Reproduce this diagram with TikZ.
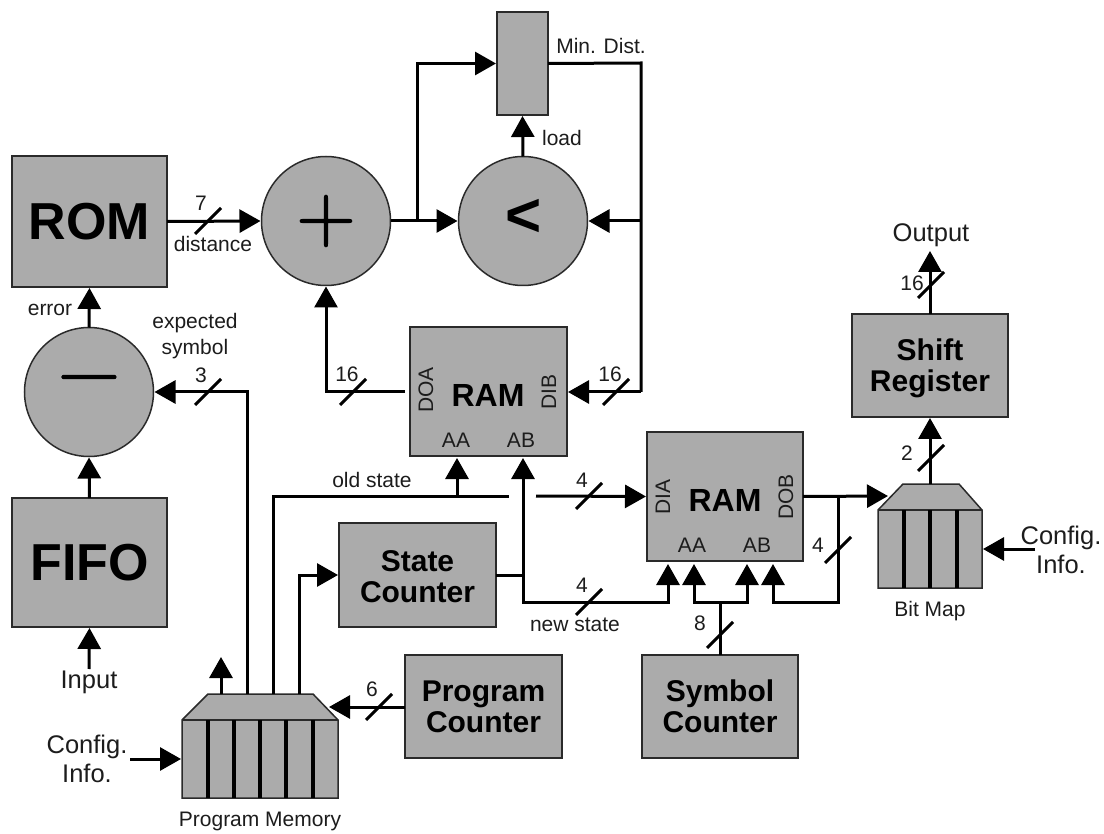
\documentclass[tikz,border=0pt]{standalone}
\usepackage{fontspec}
\setmainfont{Liberation Sans}
\newfontfamily\lmsym[FakeBold=1.5]{Latin Modern Roman}
\usetikzlibrary{arrows.meta}
\definecolor{blockgray}{HTML}{ABABAB}
\definecolor{edgegray}{HTML}{2A2A2A}
\definecolor{inkgray}{HTML}{1C1C1C}
\newcommand{\fs}[1]{\fontsize{#1}{#1}\selectfont}
\newcommand{\busslash}[2]{\draw[slashmark] (#1-13,#2+13) -- (#1+13,#2-13);}
\tikzset{
  x=1pt,y=-1pt,
  block/.style={draw=edgegray,fill=blockgray,line width=1.5pt,inner sep=0pt,outer sep=0pt,align=center,text=black},
  orb/.style={block,circle,minimum size=129pt},
  big/.style={font=\fs{52}\bfseries},
  mid/.style={font=\fs{30}\bfseries,text depth=0pt},
  ramtext/.style={font=\fs{32}\bfseries,inner sep=0pt},
  lab/.style={font=\fs{21},text=inkgray,inner sep=0pt,align=center},
  biglab/.style={font=\fs{25.5},text=inkgray,inner sep=0pt,align=center},
  wire/.style={line width=3pt,draw=black},
  arr/.style={wire,-{Triangle[length=21pt,width=23pt]},shorten >=1pt},
  slashmark/.style={line width=3pt,draw=black},
  divider/.style={line width=3.5pt,draw=black},
  memory/.style={draw=edgegray,fill=blockgray,line width=1.5pt,line join=miter},
}
\begin{document}
\begin{tikzpicture}
\useasboundingbox (0,0) rectangle (1104,834);
% blocks
\node[block,big,minimum width=155pt,minimum height=131pt] (rom) at (89.5,221.5) {ROM};
\node[block,big,minimum width=155pt,minimum height=129pt] (fifo) at (89.5,562.5) {FIFO};
\node[orb] (minus) at (89,392) {};
\node[font=\lmsym\fs{86},inner sep=0pt] (minussign) at (89,387) {−};
\node[orb] (plus) at (326,221) {};
\node[font=\lmsym\fs{82},inner sep=0pt] (plussign) at (326,221) {+};
\node[orb] (less) at (523,221) {};
\node[font=\fs{62}\bfseries,inner sep=0pt] (lesssign) at (524,218) {<};
\node[block,minimum width=51pt,minimum height=103pt] (mindist) at (522.5,63.5) {};
\node[block,minimum width=157pt,minimum height=129pt] (ramone) at (488.5,391.5) {};
\node[block,minimum width=156pt,minimum height=129pt] (ramtwo) at (725,496.5) {};
\node[block,mid,minimum width=156pt,minimum height=103pt] (shift) at (930,365.5) {Shift\\[1pt]Register};
\node[block,minimum width=157pt,minimum height=104pt] (state) at (417.5,575) {};
\node[mid,align=center,inner sep=0pt] (statetext) at (417.5,577) {State\\[1pt]Counter};
\node[block,mid,minimum width=157pt,minimum height=103pt] (progc) at (483.5,706.5) {Program\\[1pt]Counter};
\node[block,mid,minimum width=156pt,minimum height=103pt] (symc) at (720,706.5) {Symbol\\[1pt]Counter};
% bit map
\draw[memory] (878,510) -- (903,484) -- (959,484) -- (982,510) -- (982,588) -- (878,588) -- cycle;
\draw[memory] (878,510) -- (982,510);
\foreach \x in {904,930,957} \draw[divider] (\x,510) -- (\x,588);
% program memory
\draw[memory] (182,720) -- (208,694) -- (313,694) -- (338,720) -- (338,798) -- (182,798) -- cycle;
\draw[memory] (182,720) -- (338,720);
\foreach \x in {208,234,260,286,313} \draw[divider] (\x,720) -- (\x,798);
% junctions and free ends
\coordinate (bmtop) at (930,484);
\coordinate (bmleft) at (889,496);
\coordinate (bmright) at (982,549);
\coordinate (pmleft) at (182,759);
\coordinate (pmright) at (328,707);
\coordinate (pmA) at (221,694);
\coordinate (pmB) at (247,694);
\coordinate (pmC) at (273,694);
\coordinate (pmD) at (299,694);
\coordinate (pmup) at (221,656);
\coordinate (cfgA) at (130,759);
\coordinate (cfgB) at (1035,549);
\coordinate (inp) at (89,669);
\coordinate (outp) at (930,250);
\coordinate (split) at (417,221);
\coordinate (mdcorner) at (641,63);
\coordinate (tee) at (641,221);
\coordinate (dibcorner) at (641,392);
\coordinate (gapL) at (509,496);
\coordinate (gapR) at (536,496);
\coordinate (oldjoin) at (457,496);
\coordinate (nsjoin) at (523,575);
\coordinate (nscorner) at (523,602);
\coordinate (scjoin) at (720,602);
\coordinate (dobjoin) at (838,496);
\coordinate (dobcorner) at (838,602);
\coordinate (doaout) at (405,392);
\coordinate (progout) at (405,707);
\coordinate (rA) at (457,457);
\coordinate (rB) at (523,457);
\coordinate (tA) at (668,563);
\coordinate (tB) at (694,563);
\coordinate (tC) at (747,563);
\coordinate (tD) at (773,563);
\coordinate (mA) at (668,602);
\coordinate (mD) at (773,602);
\coordinate (mB) at (694,602);
\coordinate (mC) at (747,602);
% connectors
\draw[arr] (rom.east) -- (plus.west);
\draw[arr] (minus.north) -- (rom.south);
\draw[arr] (fifo.north) -- (minus.south);
\draw[arr] (inp) -- (fifo.south);
\draw[arr] (plus.east) -- (less.west);
\draw[arr] (split) |- (mindist.west);
\draw[arr] (less.north) -- (mindist.south);
\draw[wire] (mindist.east) -- (mdcorner) -- (dibcorner);
\draw[arr] (tee) -- (less.east);
\draw[arr] (dibcorner) -- (ramone.east |- dibcorner);
\draw[arr] (doaout) -| (plus.south);
\draw[arr] (pmB) |- (minus.east);
\draw[arr] (pmA) -- (pmup);
\draw[wire] (pmC) |- (gapL);
\draw[arr] (oldjoin) -- (rA);
\draw[arr] (gapR) -- (ramtwo.west);
\draw[arr] (pmD) |- (state.west);
\draw[arr] (progout) -- (pmright);
\draw[arr] (cfgA) -- (pmleft);
\draw[wire] (state.east) -- (nsjoin);
\draw[arr] (nsjoin) -- (rB);
\draw[arr] (nsjoin) |- (mA) -- (tA);
\draw[wire] (symc.north) -- (scjoin);
\draw[arr] (scjoin) -- (mB) -- (tB);
\draw[arr] (scjoin) -- (mC) -- (tC);
\draw[arr] (ramtwo.east) -- (bmleft);
\draw[arr] (dobjoin) |- (mD) -- (tD);
\draw[arr] (bmtop) -- (shift.south);
\draw[arr] (shift.north) -- (outp);
\draw[arr] (cfgB) -- (bmright);
% bus slashes
\busslash{208}{221}
\busslash{208}{392}
\busslash{353}{392}
\busslash{616}{392}
\busslash{589}{496}
\busslash{589}{602}
\busslash{379}{707}
\busslash{720}{635}
\busslash{838}{550}
\busslash{931}{458}
\busslash{931}{285}
% labels
\node[lab] (l7) at (201,203) {7};
\node[lab] (ldist) at (213,244) {distance};
\node[lab] (lerr) at (50,310) {error};
\node[lab] (lexp) at (195,336) {expected\\[5pt]symbol};
\node[lab] (l3) at (201,375) {3};
\node[lab] (lmin) at (601,46) {Min. Dist.};
\node[lab] (lload) at (562,138) {load};
\node[lab] (l16a) at (347,374) {16};
\node[lab] (l16b) at (610,374) {16};
\node[lab] (lold) at (372,480) {old state};
\node[lab] (l4a) at (582,480) {4};
\node[lab] (l4b) at (582,585) {4};
\node[lab] (lnew) at (575,625) {new state};
\node[lab] (l6) at (372,689) {6};
\node[lab] (l8) at (700,623) {8};
\node[lab] (l4c) at (818,545) {4};
\node[lab] (l2) at (907,453) {2};
\node[lab] (l16c) at (912,283) {16};
\node[lab] (lbit) at (930,611) {Bit Map};
\node[lab] (lpm) at (260,821) {Program Memory};
\node[biglab] (lout) at (931,235) {Output};
\node[biglab] (lin) at (89,682) {Input};
\node[biglab] (lcfgA) at (87,759) {Config.\\[3pt]Info.};
\node[biglab] (lcfgB) at (1061,550) {Config.\\[3pt]Info.};
% RAM port names
\node[ramtext] (r1) at (488,395) {RAM};
\node[ramtext] (r2) at (725,500) {RAM};
\node[lab,rotate=90] (doa) at (426,390) {DOA};
\node[lab,rotate=90] (dib) at (549,392) {DIB};
\node[lab] (aa1) at (456,440) {AA};
\node[lab] (ab1) at (521,440) {AB};
\node[lab,rotate=90] (dia) at (663,497) {DIA};
\node[lab,rotate=90] (dob) at (786,497) {DOB};
\node[lab] (aa2) at (692,545) {AA};
\node[lab] (ab2) at (757,545) {AB};
\end{tikzpicture}
\end{document}
